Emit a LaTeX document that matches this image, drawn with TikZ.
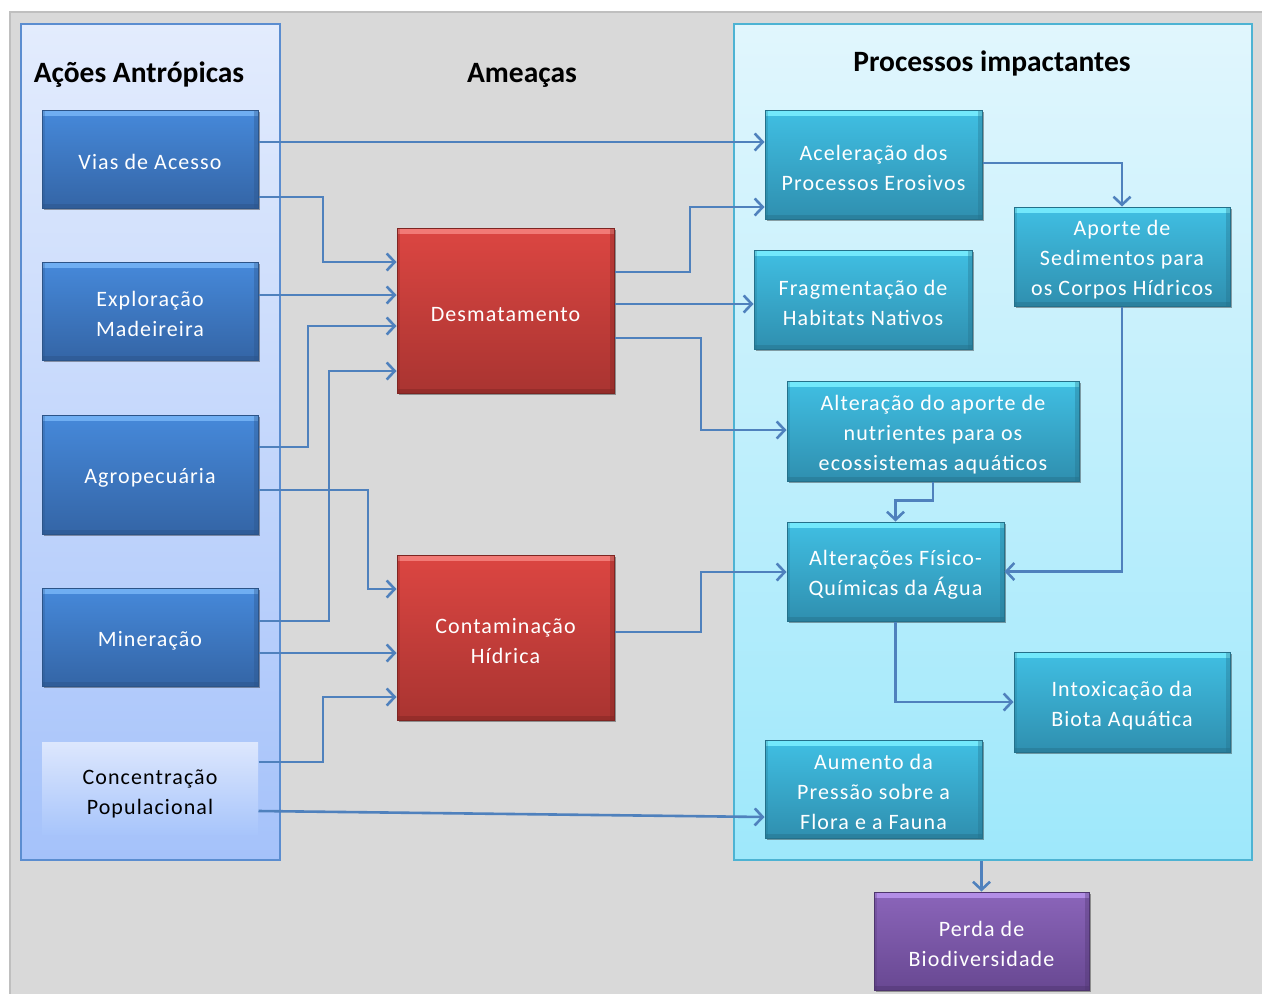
\documentclass[tikz,border=0pt]{standalone}
\usepackage{fontspec}
\setmainfont{Carlito}
\newfontfamily\boxfont{Carlito}[LetterSpace=5]
\usetikzlibrary{arrows.meta,shadows}
\definecolor{conn}{HTML}{4F81BD}
\definecolor{bgGray}{HTML}{D9D9D9}
\definecolor{bgEdge}{HTML}{BFBFBF}
\definecolor{lpTop}{HTML}{E3ECFD}
\definecolor{lpBot}{HTML}{A5C2FA}
\definecolor{lpEdge}{HTML}{5B8DD0}
\definecolor{rpTop}{HTML}{E1F6FD}
\definecolor{rpBot}{HTML}{9EE8FB}
\definecolor{rpEdge}{HTML}{4DB3D3}
\definecolor{bA}{HTML}{4689DA}
\definecolor{bB}{HTML}{3465A6}
\definecolor{bH}{HTML}{6FAEF2}
\definecolor{bD}{HTML}{2C5488}
\definecolor{rA}{HTML}{DC4642}
\definecolor{rB}{HTML}{A93431}
\definecolor{rH}{HTML}{F27A76}
\definecolor{rD}{HTML}{7E2522}
\definecolor{cA}{HTML}{40BFE3}
\definecolor{cB}{HTML}{2F8FAF}
\definecolor{cH}{HTML}{72E8FB}
\definecolor{cD}{HTML}{24708A}
\definecolor{pA}{HTML}{8B65BA}
\definecolor{pB}{HTML}{684892}
\definecolor{pH}{HTML}{B38EE6}
\definecolor{pD}{HTML}{4E356E}
\definecolor{ccTop}{HTML}{DDE7FD}
\definecolor{ccBot}{HTML}{A8C5FB}
\tikzset{
  base/.style={rectangle, inner sep=0pt, align=center,
    font=\boxfont\fontsize{22}{30}\selectfont, text=white, line width=1pt,
    execute at begin node={\rule{0pt}{22pt}}},
  ltwo/.style={execute at begin node={\rule{0pt}{52pt}}},
  lthree/.style={execute at begin node={\rule{0pt}{82pt}}},
  bevel/.style n args={4}{base, top color=#1, bottom color=#2, draw=#4,
    drop shadow={shadow xshift=1.5pt, shadow yshift=-2pt, opacity=0.35, fill=black},
    path picture={
      \fill[#3] (path picture bounding box.north west) rectangle ([yshift=-6pt]path picture bounding box.north east);
      \fill[#4, opacity=0.45] (path picture bounding box.south west) rectangle ([yshift=4pt]path picture bounding box.south east);
      \fill[#4, opacity=0.35] (path picture bounding box.north east) rectangle ([xshift=-4pt]path picture bounding box.south east);
      \fill[#4, opacity=0.25] (path picture bounding box.north west) rectangle ([xshift=3pt]path picture bounding box.south west);
    }},
  bluebox/.style={bevel={bA}{bB}{bH}{bD}},
  redbox/.style={bevel={rA}{rB}{rH}{rD}},
  cyanbox/.style={bevel={cA}{cB}{cH}{cD}},
  purplebox/.style={bevel={pA}{pB}{pH}{pD}},
  lightbox/.style={base, text=black, top color=ccTop, bottom color=ccBot},
  panel/.style={rectangle, inner sep=0pt, line width=1.5pt},
  title/.style={font=\bfseries\fontsize{29.5}{34}\selectfont, text=black, inner sep=0pt},
  arr/.style={draw=conn, line width=2.6pt, -{Straight Barb[length=8pt,width=17pt]}},
}
\begin{document}
\begin{tikzpicture}[x=1pt,y=-1pt]
\useasboundingbox (0,0) rectangle (1262,994);
\fill[white] (0,0) rectangle (1262,994);
\filldraw[fill=bgGray, draw=bgEdge, line width=1.5pt] (10,12) rectangle (1270,1000);

% panels
\node[panel, draw=lpEdge, top color=lpTop, bottom color=lpBot, minimum width=259pt, minimum height=836pt] (lpanel) at (150.5,442) {};
\node[panel, draw=rpEdge, top color=rpTop, bottom color=rpBot, minimum width=518pt, minimum height=836pt] (rpanel) at (993,442) {};

% titles
\node[title] (t1) at (139,75) {Ações Antrópicas};
\node[title] (t2) at (522,75) {Ameaças};
\node[title] (t3) at (992,63) {Processos impactantes};

% left boxes
\node[bluebox, minimum width=216pt, minimum height=98pt] (vias) at (150,159) {Vias de Acesso};
\node[bluebox, ltwo, minimum width=216pt, minimum height=98pt] (expl) at (150,311) {Exploração\\Madeireira};
\node[bluebox, minimum width=216pt, minimum height=119pt] (agro) at (150,474.5) {Agropecuária};
\node[bluebox, minimum width=216pt, minimum height=98pt] (miner) at (150,637) {Mineração};
\node[lightbox, execute at begin node={\rule{0pt}{56pt}}, minimum width=216pt, minimum height=92pt] (conc) at (150,788) {Concentração\\Populacional};

% threats
\node[redbox, minimum width=217pt, minimum height=165pt] (desm) at (505.5,310.5) {Desmatamento};
\node[redbox, ltwo, minimum width=217pt, minimum height=165pt] (cont) at (505.5,637.5) {Contaminação\\Hídrica};

% processes
\node[cyanbox, ltwo, minimum width=217pt, minimum height=109pt] (acel) at (873.5,164.5) {Aceleração dos\\Processos Erosivos};
\node[cyanbox, lthree, minimum width=216pt, minimum height=99pt] (aporte) at (1122,256.5) {Aporte de\\Sedimentos para\\os Corpos Hídricos};
\node[cyanbox, ltwo, minimum width=218pt, minimum height=99pt] (frag) at (863,299.5) {Fragmentação de\\Habitats Nativos};
\node[cyanbox, lthree, minimum width=292pt, minimum height=100pt] (nutr) at (933,431) {Alteração do aporte de\\nutrientes para os\\ecossistemas aquáticos};
\node[cyanbox, ltwo, minimum width=217pt, minimum height=99pt] (fq) at (895.5,571.5) {Alterações Físico-\\Químicas da Água};
\node[cyanbox, ltwo, minimum width=216pt, minimum height=100pt] (intox) at (1122,702) {Intoxicação da\\Biota Aquática};
\node[cyanbox, lthree, minimum width=217pt, minimum height=98pt] (aum) at (873.5,789) {Aumento da\\Pressão sobre a\\Flora e a Fauna};
\node[purplebox, ltwo, minimum width=215pt, minimum height=98pt] (perda) at (981.5,941) {Perda de\\Biodiversidade};

% connectors
\draw[arr] (vias.east |- 0,142) -- (acel.west |- 0,142);
\draw[arr] (vias.east |- 0,197) -- (323,197) |- (desm.west |- 0,262);
\draw[arr] (expl.east |- 0,295) -- (desm.west |- 0,295);
\draw[arr] (agro.east |- 0,447) -- (308,447) |- (desm.west |- 0,326);
\draw[arr] (miner.east |- 0,621) -- (329,621) |- (desm.west |- 0,371);
\draw[arr] (agro.east |- 0,490) -- (368,490) |- (cont.west |- 0,589);
\draw[arr] (miner.east |- 0,653) -- (cont.west |- 0,653);
\draw[arr] (conc.east |- 0,762) -- (323,762) |- (cont.west |- 0,697);
\draw[arr] (conc.east |- 0,811) -- (aum.west |- 0,817);
\draw[arr] (desm.east |- 0,272) -- (690,272) |- (acel.west |- 0,207);
\draw[arr] (desm.east |- 0,304) -- (frag.west |- 0,304);
\draw[arr] (desm.east |- 0,338) -- (701,338) |- (nutr.west |- 0,430);
\draw[arr] (cont.east |- 0,632) -- (701,632) |- (fq.west |- 0,572);
\draw[arr] (acel.east |- 0,163) -| (aporte.north);
\draw[arr] (aporte.south) |- (fq.east);
\draw[arr] (nutr.south) -- ++(0,19) -| (fq.north);
\draw[arr] (fq.south) |- (intox.west);
\draw[arr] (rpanel.south -| perda.north) -- (perda.north);
\end{tikzpicture}
\end{document}
